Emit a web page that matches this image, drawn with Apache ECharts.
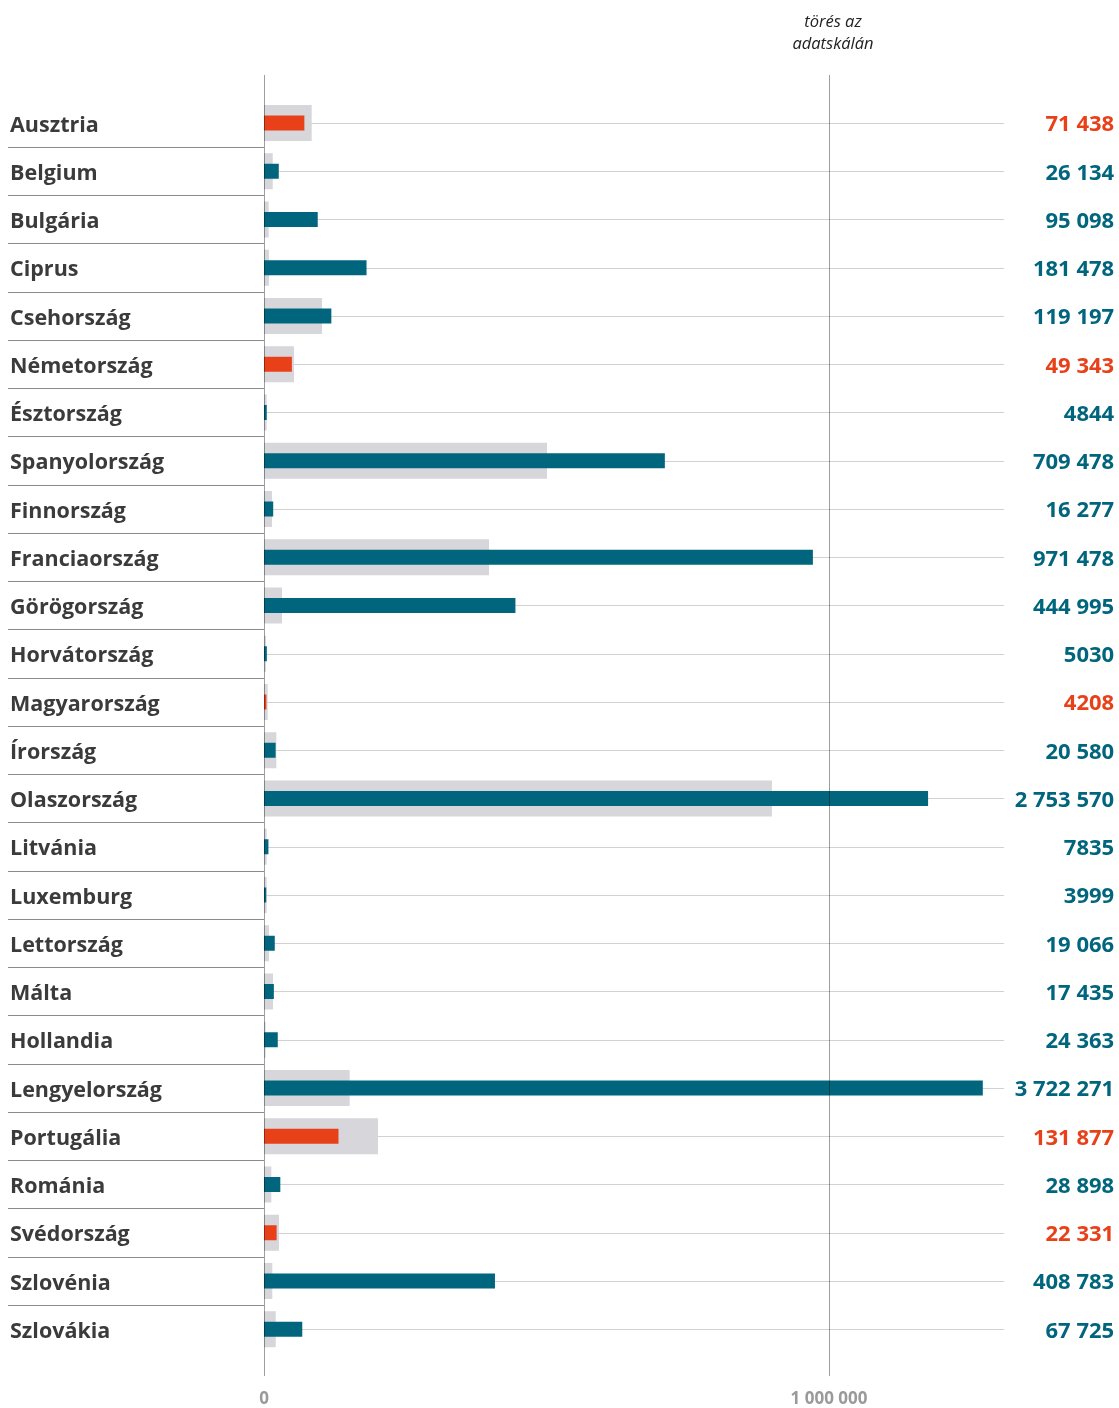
<!DOCTYPE html>
<html><head><meta charset="utf-8">
<script src="https://cdn.jsdelivr.net/npm/echarts@6/dist/echarts.min.js"></script>
<style>html,body{margin:0;padding:0;background:#fff}#c{width:1119px;height:1408px}</style>
</head><body><div id="c"></div>
<script>
const countries = ['Ausztria','Belgium','Bulgária','Ciprus','Csehország','Németország','Észtország','Spanyolország','Finnország','Franciaország','Görögország','Horvátország','Magyarország','Írország','Olaszország','Litvánia','Luxemburg','Lettország','Málta','Hollandia','Lengyelország','Portugália','Románia','Svédország','Szlovénia','Szlovákia'];
const values = [71438,26134,95098,181478,119197,49343,4844,709478,16277,971478,444995,5030,4208,20580,2753570,7835,3999,19066,17435,24363,3722271,131877,28898,22331,408783,67725];
const greyValues = [84400,15400,8300,8800,102700,53100,4700,500900,14200,398200,31900,3500,6500,21800,899000,4700,4700,8800,15900,2900,151600,201800,12900,26500,14700,20700];
const highlighted = ['Ausztria','Németország','Magyarország','Portugália','Svédország'];
const tickValues = [0, 1000000];
const breakAt = 1000000;
const breakRatio = 0.1;
const axisMax = 1310000;

const TEAL = '#00657d', RED = '#e8411a', GREY = '#d6d6db';
const FONT = '"Open Sans", sans-serif';
function display(v){ return v <= breakAt ? v : breakAt + (v - breakAt) * breakRatio; }
function fmt(v){ const s = String(v); if (s.length <= 4) return s; return s.replace(/\B(?=(\d{3})+(?!\d))/g, ' '); }
const isHl = i => highlighted.includes(countries[i]);

const rowTop = 123, rowStep = 48.25, n = countries.length;
const plotLeft = 264, plotWidth = 740.15;

const chart = echarts.init(document.getElementById('c'), null, {renderer: 'canvas'});
chart.setOption({
  animation: false,
  backgroundColor: '#fff',
  title: {
    text: 'törés az\nadatskálán', left: 828, top: 6, textAlign: 'center',
    textStyle: {fontFamily: FONT, fontStyle: 'italic', fontWeight: 'normal', fontSize: 16.5, color: '#222', lineHeight: 22}
  },
  grid: [
    {left: 8, top: rowTop - rowStep/2, width: plotLeft - 8, height: rowStep * n},
    {left: plotLeft, top: rowTop, width: plotWidth, height: rowStep * (n - 1)},
    {left: plotLeft, top: 75, width: plotWidth, height: 1304}
  ],
  xAxis: [
    {gridIndex: 0, type: 'value', min: 0, max: 1, show: false},
    {gridIndex: 1, type: 'value', min: 0, max: axisMax, show: false},
    {gridIndex: 2, type: 'value', min: 0, max: axisMax, interval: 1000000, z: 5,
     axisLine: {show: false}, axisTick: {show: false},
     splitLine: {show: true, showMinLine: true, showMaxLine: false, lineStyle: {color: 'rgba(0,0,0,0.38)', width: 1}},
     axisLabel: {show: true, showMaxLabel: false, margin: 15, color: '#9a9a9a', fontFamily: FONT, fontWeight: 'bold', fontSize: 17,
       formatter: v => tickValues.includes(v) ? fmt(v) : ''}}
  ],
  yAxis: [
    {gridIndex: 0, type: 'category', data: countries, inverse: true, boundaryGap: true,
     axisLine: {show: false}, axisTick: {show: false},
     splitLine: {show: true, showMinLine: false, showMaxLine: false, lineStyle: {color: '#8a8a8a', width: 1.2}},
     axisLabel: {inside: true, margin: 2, interval: 0,
       formatter: v => '{c|' + v + '}',
       rich: {c: {padding: [5, 0, 0, 0], color: '#3b3b3b', fontFamily: FONT, fontWeight: 'bold', fontSize: 21.5}}}},
    {gridIndex: 1, type: 'category', data: countries, inverse: true, boundaryGap: false,
     axisLine: {show: false}, axisTick: {show: false}, axisLabel: {show: false},
     splitLine: {show: true, interval: 0, lineStyle: {color: '#d2d2d2', width: 1.2}}},
    {gridIndex: 1, type: 'category', data: countries, inverse: true, boundaryGap: false, position: 'right',
     axisLine: {show: false}, axisTick: {show: false}, splitLine: {show: false},
     axisLabel: {interval: 0, margin: 110, align: 'right', padding: [4, 0, 0, 0], fontFamily: FONT, fontWeight: 'bold', fontSize: 22,
       formatter: (val, idx) => '{' + (isHl(idx) ? 'r' : 't') + '|' + fmt(values[idx]) + '}',
       rich: {r: {color: RED, fontFamily: FONT, fontWeight: 'bold', fontSize: 22}, t: {color: TEAL, fontFamily: FONT, fontWeight: 'bold', fontSize: 22}}}},
    {gridIndex: 2, type: 'value', min: 0, max: 1, show: false}
  ],
  series: [
    {type: 'bar', name: 'grey', xAxisIndex: 1, yAxisIndex: 1, barWidth: 36, silent: true, z: 2,
     itemStyle: {color: GREY}, data: greyValues.map(display)},
    {type: 'bar', name: 'main', xAxisIndex: 1, yAxisIndex: 2, barWidth: 15, silent: true, z: 3,
     data: values.map((v, i) => ({value: display(v), itemStyle: {color: isHl(i) ? RED : TEAL}}))}
  ]
});
</script></body></html>
